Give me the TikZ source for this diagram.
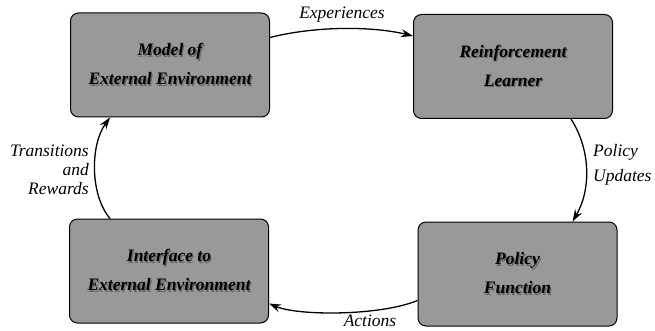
\documentclass[tikz,border=0pt]{standalone}
\usepackage{fontspec}
\setmainfont{Liberation Serif}
\usetikzlibrary{arrows.meta}

% bold italic box text with a soft offset shadow
\newcommand\shadowed[1]{\leavevmode\rlap{\raisebox{-1.2pt}{\kern1.2pt\textcolor{black!60}{#1}}}#1}

\begin{document}
\begin{tikzpicture}[x=1pt,y=-1pt,
  blockbox/.style={draw=black, line width=1pt, rounded corners=8pt,
    fill=black!40, minimum width=199pt, minimum height=104pt,
    inner sep=0pt, align=center,
    font=\fontsize{17.5}{29}\selectfont\bfseries\itshape},
  flow/.style={line width=1.3pt, -{Stealth[length=12pt,width=8pt,inset=4pt]}},
  tag/.style={font=\fontsize{17.5}{19}\selectfont\itshape, inner sep=0pt}]

\useasboundingbox (0,0) rectangle (655,331);

% the four blocks
\node[blockbox] (model)  at (170,65)    {\shadowed{Model of}\\\shadowed{External Environment}};
\node[blockbox] (learn)  at (513,66.5)  {\shadowed{Reinforcement}\\\shadowed{Learner}};
\node[blockbox] (iface)  at (169,271)   {\shadowed{Interface to}\\\shadowed{External Environment}};
\node[blockbox] (policy) at (517.5,274) {\shadowed{Policy}\\\shadowed{Function}};

% the loop of connectors
\draw[flow] ([yshift=-25pt]model.north east) .. controls (315,26) and (372,26) .. ([yshift=-22pt]learn.north west);
\draw[flow] ([xshift=-42pt]learn.south east) .. controls (591,150) and (591,190) .. ([xshift=-45pt]policy.north east);
\draw[flow] ([yshift=26pt]policy.south west) .. controls (380,316) and (298,316) .. ([yshift=20pt]iface.south east);
\draw[flow] ([xshift=-59pt]iface.north) .. controls (90,195) and (90,145) .. ([xshift=-60pt]model.south);

% connector labels
\node[tag] (lexp) at (342,15) {Experiences};
\node[tag, anchor=west, align=left, font=\fontsize{17.5}{25}\selectfont\itshape] (lpol) at (593,165) {Policy\\Updates};
\node[tag, anchor=base] (lact) at (370,326.5) {Actions};
\node[tag, anchor=east, align=right] (ltr) at (89,170) {Transitions\\and\\Rewards};
\end{tikzpicture}
\end{document}
